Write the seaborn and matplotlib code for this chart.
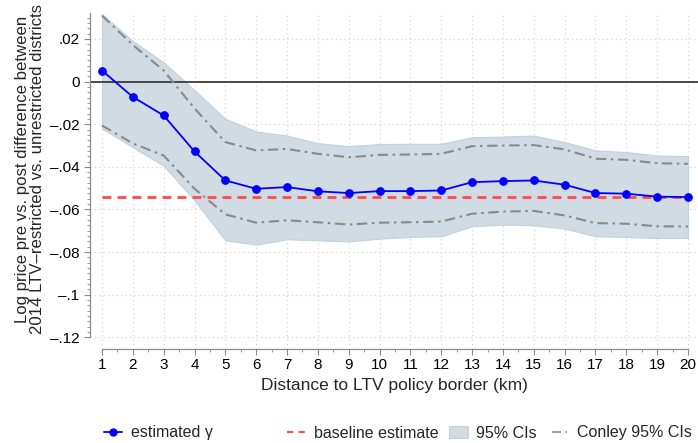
import numpy as np
import pandas as pd
import matplotlib
matplotlib.use("Agg")
import matplotlib.pyplot as plt
from matplotlib.lines import Line2D
from matplotlib.patches import Patch
from matplotlib.ticker import MultipleLocator, FixedLocator
import seaborn as sns

# ---------------- data ----------------
distance = list(range(1, 21))
gamma = [0.0052, -0.0072, -0.0159, -0.0328, -0.0464, -0.0503, -0.0495, -0.0515, -0.0523, -0.0514,
         -0.0514, -0.0511, -0.0472, -0.0467, -0.0464, -0.0484, -0.0523, -0.0526, -0.0540, -0.0542]
ci_upper = [0.0317, 0.0190, 0.0090, -0.0040, -0.0175, -0.0234, -0.0253, -0.0289, -0.0303, -0.0293,
            -0.0292, -0.0292, -0.0261, -0.0258, -0.0253, -0.0284, -0.0323, -0.0331, -0.0347, -0.0350]
ci_lower = [-0.0220, -0.0308, -0.0395, -0.0557, -0.0745, -0.0765, -0.0740, -0.0745, -0.0750, -0.0737,
            -0.0729, -0.0726, -0.0679, -0.0671, -0.0674, -0.0690, -0.0726, -0.0729, -0.0734, -0.0734]
conley_upper = [0.0310, 0.0172, 0.0052, -0.0126, -0.0284, -0.0323, -0.0316, -0.0339, -0.0355, -0.0344,
                -0.0342, -0.0339, -0.0303, -0.0300, -0.0298, -0.0318, -0.0362, -0.0367, -0.0383, -0.0386]
conley_lower = [-0.0206, -0.0290, -0.0347, -0.0503, -0.0623, -0.0662, -0.0651, -0.0660, -0.0671, -0.0662,
                -0.0660, -0.0657, -0.0620, -0.0610, -0.0607, -0.0628, -0.0664, -0.0667, -0.0679, -0.0680]
baseline = -0.0543

y_ticks = [0.02, 0.0, -0.02, -0.04, -0.06, -0.08, -0.10, -0.12]
y_ticklabels = [".02", "0", "\u2013.02", "\u2013.04", "\u2013.06", "\u2013.08", "\u2013.1", "\u2013.12"]

legend_labels = ["estimated \u03b3", "baseline estimate", "95% CIs", "Conley 95% CIs"]
xlabel = "Distance to LTV policy border (km)"
ylabel = "Log price pre vs. post difference between\n2014 LTV\u2013restricted vs. unrestricted districts"

df = pd.DataFrame({"distance": distance, "gamma": gamma, "ci_upper": ci_upper, "ci_lower": ci_lower,
                   "conley_upper": conley_upper, "conley_lower": conley_lower})

# ---------------- style ----------------
sns.set_style("white")
plt.rcParams["font.family"] = ["Liberation Sans", "DejaVu Sans"]
plt.rcParams["font.size"] = 11

BLUE = "#0000ff"
RED = "#ff4a4a"
SHADE = "#d1dbe4"
SHADE_EDGE = "#c4d0dc"
GRAY = "#8a8a8a"
GRID = "#d6d6d6"
AX = "#8c8c8c"

fig = plt.figure(figsize=(6.98, 4.43), dpi=100)
ax = fig.add_axes([90 / 698, 94 / 443, 608 / 698, 336 / 443])

# grid
for xv in distance:
    ax.axvline(xv, color=GRID, lw=0.9, ls=(0, (1, 2.5)), zorder=0)
for yv in y_ticks:
    if yv != 0:
        ax.axhline(yv, color=GRID, lw=0.9, ls=(0, (1, 2.5)), zorder=0)

# CI band
ax.fill_between(df["distance"], df["ci_lower"], df["ci_upper"], color=SHADE, edgecolor=SHADE_EDGE,
                lw=0.8, zorder=1)

# zero line
ax.axhline(0, color="#3a3a3a", lw=1.3, zorder=2)

# Conley bounds
conley_dash = (0, (5, 2.2, 1.2, 2.2))
sns.lineplot(data=df, x="distance", y="conley_upper", ax=ax, color=GRAY, lw=1.5, zorder=3)
sns.lineplot(data=df, x="distance", y="conley_lower", ax=ax, color=GRAY, lw=1.5, zorder=3)
for ln in ax.lines[-2:]:
    ln.set_linestyle(conley_dash)

# baseline (spans the distance range)
ax.plot([distance[0], distance[-1]], [baseline, baseline], color=RED, lw=2.0,
        ls=(0, (3.2, 2.2)), zorder=4)

# estimated gamma
sns.lineplot(data=df, x="distance", y="gamma", ax=ax, color=BLUE, lw=1.3, marker="o",
             markersize=5.5, markeredgecolor=BLUE, zorder=5)

# axes
ax.set_xlim(1 - 12 / 30.84, 20 + 10 / 30.84)
ax.set_ylim(-0.1255, 0.0322)
ax.set_xticks(distance)
ax.set_xticklabels([str(d) for d in distance])
ax.xaxis.set_minor_locator(MultipleLocator(0.5))
ax.set_yticks(y_ticks)
ax.set_yticklabels(y_ticklabels)
ax.yaxis.set_minor_locator(FixedLocator(np.arange(-0.12, 0.0321, 0.0025)))

for s in ["top", "right"]:
    ax.spines[s].set_visible(False)
ax.spines["left"].set_color(AX)
ax.spines["bottom"].set_color(AX)
ax.spines["left"].set_linewidth(0.9)
ax.spines["bottom"].set_linewidth(0.9)
ax.spines["left"].set_bounds(-0.12, 0.0322)
ax.spines["bottom"].set_bounds(1, 20)

ax.tick_params(axis="both", which="major", length=4.5, width=0.8, color=AX, labelsize=11,
               labelcolor="black", direction="out", bottom=True, left=True)
ax.tick_params(axis="both", which="minor", length=2.5, width=0.6, color=AX, bottom=True, left=True)
ax.tick_params(axis="y", pad=3)
ax.tick_params(axis="x", pad=2)

ax.set_xlabel(xlabel, fontsize=12.5, labelpad=4)
ax.set_ylabel(ylabel, fontsize=12.1, linespacing=1.05)
ax.yaxis.set_label_coords(-0.0735, 0.535)

# legend (four entries placed along the bottom)
handles = [
    Line2D([], [], color=BLUE, lw=1.3, marker="o", markersize=5),
    Line2D([], [], color=RED, lw=1.5, ls=(0, (3, 2.5))),
    Patch(facecolor=SHADE, edgecolor=SHADE_EDGE, lw=0.8),
    Line2D([], [], color=GRAY, lw=1.2, ls=(0, (5.4, 2.6, 1, 4))),
]
# (start x px, handle length px, gap to text px)
layout = [(104, 18, 9), (287, 18, 9), (449, 19, 8), (552, 15, 10)]
fs = 11.5
em = fs * 100 / 72
for h, lab, (xp, hl, gap) in zip(handles, legend_labels, layout):
    fig.legend(handles=[h], labels=[lab], loc="center left", bbox_to_anchor=(xp / 698, 10 / 443),
               frameon=False, fontsize=fs, handlelength=hl / em, handletextpad=gap / em,
               borderpad=0, borderaxespad=0, handleheight=0.8)

fig.savefig("out.png", dpi=100)
